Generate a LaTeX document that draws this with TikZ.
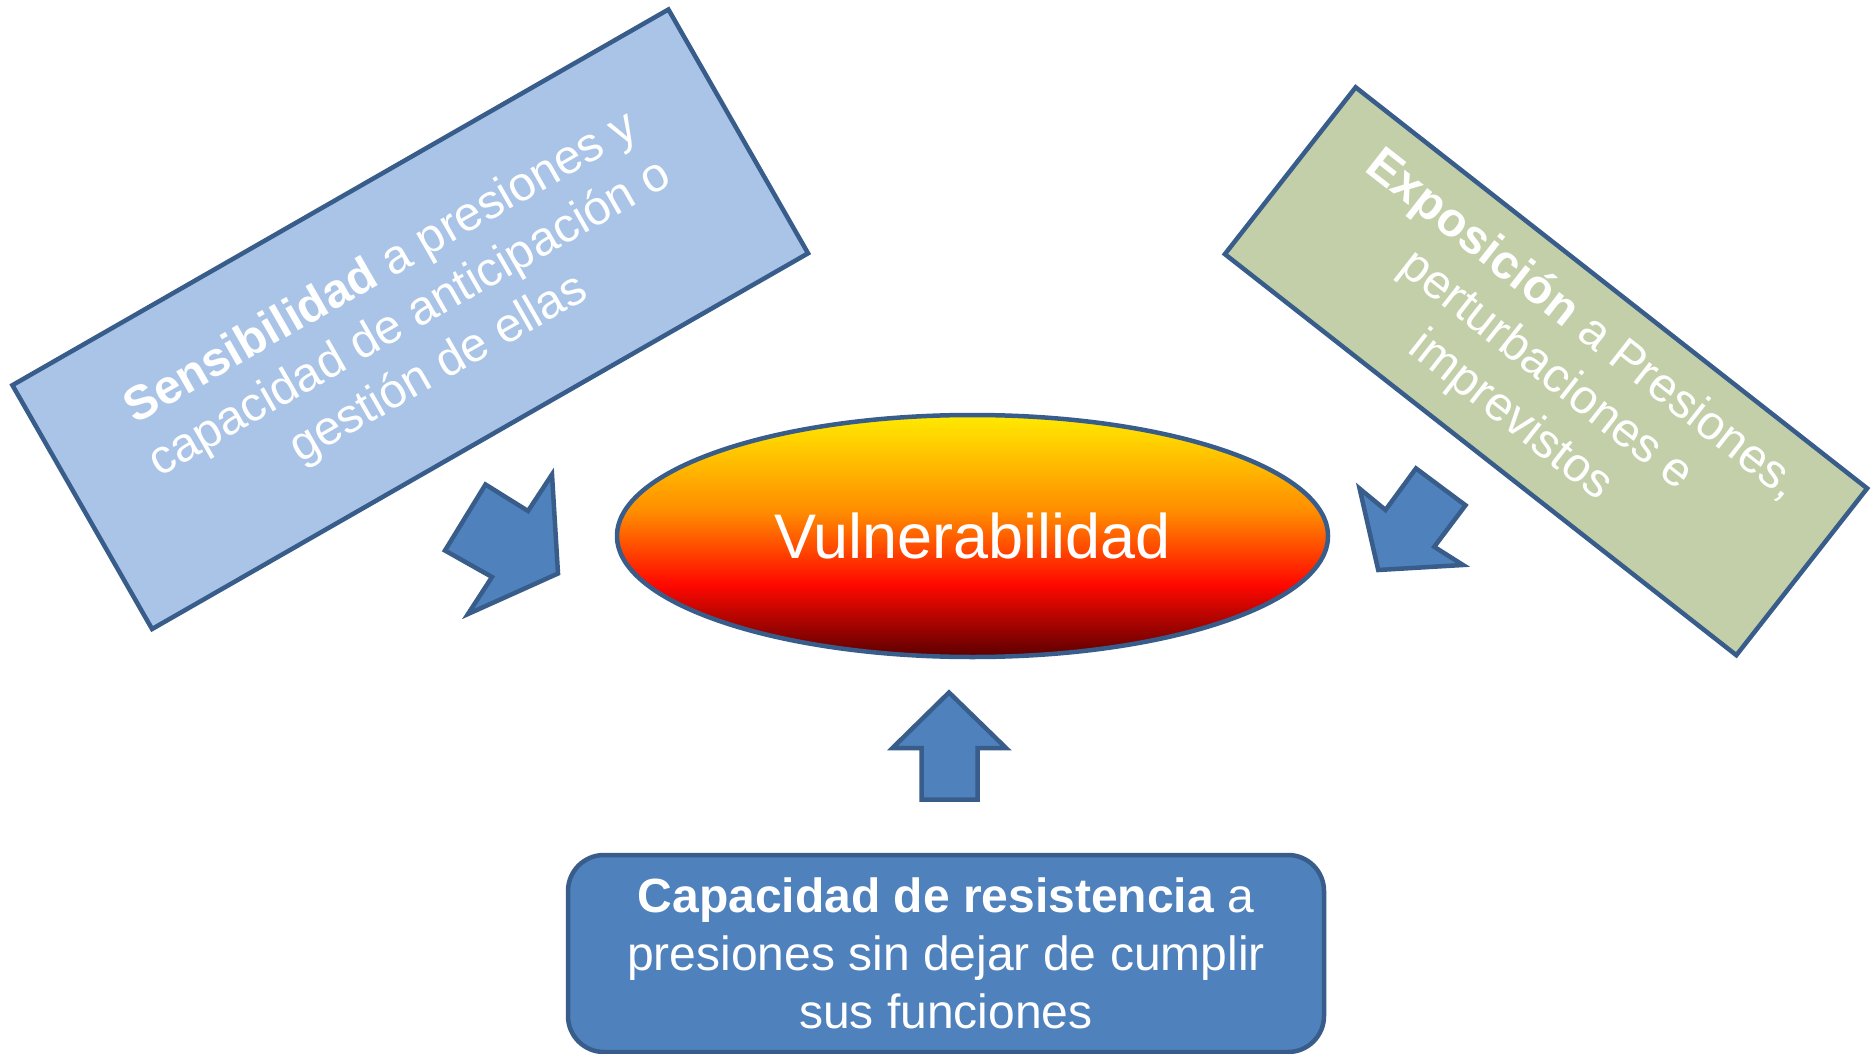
\documentclass[tikz,border=0pt]{standalone}
\usepackage{fontspec}
\setmainfont{Liberation Sans}
\usetikzlibrary{shapes.geometric}
\definecolor{edge}{HTML}{385D8A}
\definecolor{boxblue}{HTML}{4F81BD}
\definecolor{lightblue}{HTML}{A9C4E7}
\definecolor{sage}{HTML}{C3CFA9}
\definecolor{fyellow}{HTML}{FFEA00}
\definecolor{forange}{HTML}{FF8C00}
\definecolor{fred}{HTML}{FF0800}
\definecolor{fdark}{HTML}{5A0000}
\pgfdeclareverticalshading{fire}{100bp}{color(0bp)=(fdark); color(25bp)=(fdark); color(40bp)=(fred); color(55bp)=(forange); color(75bp)=(fyellow); color(100bp)=(fyellow)}
\begin{document}
\begin{tikzpicture}[x=1pt,y=-1pt,
  panel/.style={draw=edge, line width=4.5pt, text=white, align=center, inner sep=0pt,
    font=\fontsize{48}{58}\selectfont},
  blockarrow/.style={fill=boxblue, draw=edge, line width=4.5pt, line join=miter}]
\fill[white] (0,0) rectangle (1874,1054);
\useasboundingbox (0,0) rectangle (1874,1054);

\node[panel, fill=lightblue, rotate=29.8, minimum width=756pt, minimum height=281pt]
  (sens) at (410.25,319.25) {\textbf{Sensibilidad} a presiones y\\capacidad de anticipación o\\gestión de ellas};

\node[panel, fill=sage, rotate=-38.1, minimum width=650pt, minimum height=212pt]
  (expo) at (1546,371.25) {\textbf{Exposición} a Presiones,\\perturbaciones e\\imprevistos};

\node[panel, fill=boxblue, rounded corners=36pt, minimum width=756pt, minimum height=197pt]
  (capa) at (946,953.5) {\textbf{Capacidad de resistencia} a\\presiones sin dejar de cumplir\\sus funciones};

\node[ellipse, draw=edge, line width=4.5pt, shading=fire, minimum width=711pt, minimum height=242pt,
  inner sep=0pt, text=white, font=\fontsize{63}{70}\selectfont]
  (vul) at (972.5,536) {Vulnerabilidad};

% block arrows
\draw[blockarrow] (485.5,484.5) -- (528,511) -- (552,474.5) -- (558,573.5) -- (468,614) -- (492,577) -- (445,550.5) -- cycle;
\draw[blockarrow] (1416,468.4) -- (1465.5,505.3) -- (1434.2,546.8) -- (1463,565) -- (1378.2,570) -- (1359.6,488.6) -- (1385.5,510) -- cycle;
\draw[blockarrow] (949,692.5) -- (1006,748) -- (977.5,748) -- (977.5,799.5) -- (921.5,799.5) -- (921.5,748) -- (892.5,748) -- cycle;
\end{tikzpicture}
\end{document}
